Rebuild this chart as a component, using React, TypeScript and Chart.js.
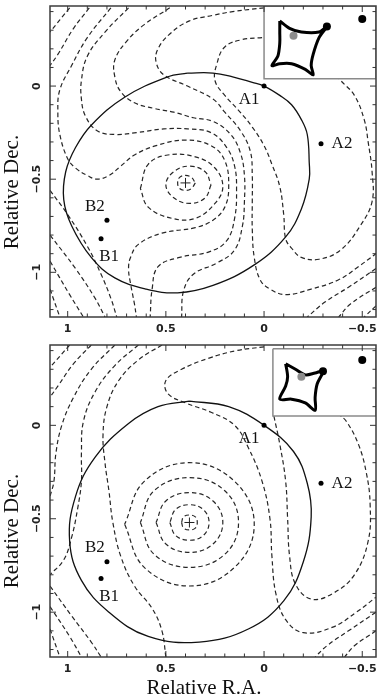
import React, { useEffect, useRef } from "react";
import { Chart, registerables } from "chart.js";

Chart.register(...registerables);

type Pt = [number, number];

// ---------- axes ----------
const X_RANGE: Pt = [-0.57, 1.09];
const Y_RANGE: Pt = [-1.24, 0.43];
const X_TICKS = [1, 0.5, 0, -0.5];
const X_TICK_LABELS = ["1", "0.5", "0", "\u22120.5"];
const Y_TICKS = [0, -0.5, -1];
const Y_TICK_LABELS = ["0", "\u22120.5", "\u22121"];
const X_TITLE = "Relative R.A.";
const Y_TITLE = "Relative Dec.";

// ---------- images (lensed points) ----------
const IMAGE_NAMES = ["A1", "A2", "B2", "B1"];
const TOP_IMAGE_X = [0.0, -0.29, 0.8, 0.83];
const TOP_IMAGE_Y = [0.0, -0.31, -0.72, -0.82];
const BOTTOM_IMAGE_X = [0.0, -0.29, 0.8, 0.83];
const BOTTOM_IMAGE_Y = [0.0, -0.31, -0.73, -0.82];
const TOP_LENS: Pt = [0.4, -0.52];
const BOTTOM_LENS: Pt = [0.38, -0.52];

// ---------- top panel: critical curve ----------
const TOP_CRITICAL: Pt[] = [[0.39,0.07],[0.26,0.07],[0.16,0.05],[0.06,0.02],[0.0,0.0],[-0.08,-0.05],[-0.14,-0.1],[-0.19,-0.18],[-0.22,-0.26],[-0.23,-0.41],[-0.23,-0.5],[-0.19,-0.66],[-0.11,-0.81],[0.05,-0.96],[0.26,-1.07],[0.44,-1.11],[0.6,-1.09],[0.76,-1.03],[0.88,-0.92],[0.98,-0.75],[1.02,-0.61],[1.01,-0.46],[0.96,-0.33],[0.88,-0.21],[0.71,-0.06],[0.49,0.05],[0.39,0.07]];

// ---------- top panel: time-delay contours ----------
const TOP_RING_1: Pt[] = [[0.35,-0.52],[0.37,-0.55],[0.4,-0.56],[0.43,-0.55],[0.44,-0.52],[0.43,-0.49],[0.4,-0.48],[0.37,-0.49],[0.35,-0.52]];
const TOP_RING_2: Pt[] = [[0.27,-0.53],[0.3,-0.6],[0.38,-0.63],[0.46,-0.6],[0.5,-0.53],[0.46,-0.46],[0.38,-0.43],[0.3,-0.46],[0.27,-0.53]];
const TOP_RING_3: Pt[] = [[0.63,-0.55],[0.59,-0.42],[0.49,-0.37],[0.35,-0.38],[0.25,-0.44],[0.21,-0.54],[0.25,-0.63],[0.35,-0.71],[0.47,-0.71],[0.59,-0.65],[0.63,-0.55]];
const TOP_C4: Pt[] = [[0.78,0.42],[0.9,0.26],[0.98,0.11],[1.04,-0.02],[1.05,-0.14],[1.04,-0.26],[1.0,-0.39],[0.96,-0.44],[0.9,-0.48],[0.85,-0.5],[0.79,-0.48],[0.73,-0.43],[0.66,-0.37],[0.55,-0.32],[0.4,-0.29],[0.27,-0.32],[0.2,-0.4],[0.18,-0.54],[0.2,-0.65],[0.26,-0.72],[0.35,-0.76],[0.52,-0.79],[0.64,-0.85],[0.68,-0.92],[0.69,-0.98],[0.68,-1.06],[0.66,-1.17],[0.65,-1.24]];
const TOP_C5: Pt[] = [[0.69,0.42],[0.81,0.29],[0.9,0.16],[0.93,0.03],[0.93,-0.07],[0.91,-0.16],[0.85,-0.24],[0.76,-0.26],[0.65,-0.25],[0.51,-0.23],[0.39,-0.23],[0.27,-0.25],[0.19,-0.33],[0.15,-0.43],[0.14,-0.56],[0.15,-0.71],[0.19,-0.83],[0.28,-0.89],[0.43,-0.92],[0.54,-0.97],[0.57,-1.09],[0.58,-1.24]];
const TOP_C6: Pt[] = [[0.48,0.42],[0.61,0.33],[0.7,0.24],[0.76,0.14],[0.76,0.05],[0.73,-0.03],[0.66,-0.09],[0.56,-0.12],[0.46,-0.14],[0.36,-0.17],[0.26,-0.19],[0.17,-0.26],[0.12,-0.36],[0.1,-0.48],[0.1,-0.62],[0.11,-0.75],[0.15,-0.88],[0.24,-0.95],[0.36,-1.01],[0.41,-1.1],[0.42,-1.24]];
const TOP_C7: Pt[] = [[0.0,0.42],[0.16,0.4],[0.26,0.38],[0.38,0.35],[0.48,0.28],[0.54,0.2],[0.55,0.13],[0.51,0.06],[0.39,0.0],[0.26,-0.07],[0.2,-0.14],[0.12,-0.24],[0.07,-0.35],[0.06,-0.48],[0.06,-0.62],[0.06,-0.77],[0.05,-0.92],[0.02,-1.04],[-0.03,-1.09],[-0.11,-1.12],[-0.24,-1.09],[-0.38,-1.04],[-0.48,-0.97],[-0.57,-0.9]];
const TOP_C8: Pt[] = [[0.01,0.26],[0.11,0.25],[0.2,0.21],[0.24,0.12],[0.25,0.03],[0.2,-0.05],[0.13,-0.13],[0.06,-0.22],[0.0,-0.32],[-0.04,-0.42],[-0.08,-0.54],[-0.1,-0.69],[-0.11,-0.82],[-0.14,-0.87],[-0.19,-0.92],[-0.28,-0.93],[-0.39,-0.88],[-0.49,-0.75],[-0.55,-0.62],[-0.55,-0.46],[-0.53,-0.3],[-0.51,-0.18],[-0.46,-0.05],[-0.39,0.03],[-0.35,0.08]];
const TOP_C9: Pt[] = [[-0.57,-0.98],[-0.43,-1.08],[-0.31,-1.16],[-0.22,-1.24]];
const TOP_C10: Pt[] = [[-0.57,-1.08],[-0.44,-1.17],[-0.38,-1.24]];
const TOP_C11: Pt[] = [[-0.57,-1.18],[-0.51,-1.24]];
const TOP_UL_1: Pt[] = [[0.99,0.42],[1.09,0.29]];
const TOP_UL_2: Pt[] = [[0.89,0.42],[0.97,0.31],[1.05,0.17],[1.09,0.11]];
const TOP_LL_1: Pt[] = [[1.09,-1.09],[1.04,-1.24]];
const TOP_LL_2: Pt[] = [[1.09,-0.94],[0.99,-1.12],[0.92,-1.24]];
const TOP_LL_3: Pt[] = [[1.09,-0.8],[0.96,-0.98],[0.86,-1.14],[0.81,-1.24]];
const TOP_LL_4: Pt[] = [[1.09,-0.56],[1.0,-0.69],[0.9,-0.86],[0.83,-1.01],[0.78,-1.14],[0.75,-1.24]];
const TOP_CONTOURS: Pt[][] = [TOP_RING_1, TOP_RING_2, TOP_RING_3, TOP_C4, TOP_C5, TOP_C6, TOP_C7, TOP_C8, TOP_C9, TOP_C10, TOP_C11, TOP_UL_1, TOP_UL_2, TOP_LL_1, TOP_LL_2, TOP_LL_3, TOP_LL_4];

// ---------- top panel: inset (source plane) ----------
const TOP_INSET_BOX: Pt[] = [[0.0,0.43],[0.0,0.04],[-0.57,0.04],[-0.57,0.43],[0.0,0.43]];
const TOP_CAUSTIC: Pt[] = [[-0.08,0.35],[-0.13,0.31],[-0.19,0.29],[-0.28,0.29],[-0.32,0.32],[-0.28,0.26],[-0.25,0.17],[-0.24,0.11],[-0.25,0.06],[-0.21,0.09],[-0.14,0.12],[-0.08,0.12],[-0.04,0.11],[-0.07,0.16],[-0.08,0.23],[-0.08,0.29],[-0.08,0.35]];
const TOP_SOURCE_X = [-0.15, -0.32, -0.5];
const TOP_SOURCE_Y = [0.27, 0.32, 0.36];

// ---------- bottom panel: critical curve ----------
const BOTTOM_CRITICAL: Pt[] = [[0.38,0.13],[0.18,0.1],[0.0,0.0],[-0.15,-0.14],[-0.22,-0.31],[-0.24,-0.49],[-0.2,-0.73],[-0.1,-0.94],[0.08,-1.09],[0.33,-1.16],[0.59,-1.13],[0.79,-1.0],[0.93,-0.83],[0.99,-0.62],[0.96,-0.38],[0.86,-0.17],[0.69,0.01],[0.54,0.1],[0.38,0.13]];

// ---------- bottom panel: time-delay contours ----------
const BOTTOM_RING_1: Pt[] = [[0.42,-0.52],[0.41,-0.55],[0.38,-0.56],[0.35,-0.55],[0.34,-0.52],[0.35,-0.49],[0.38,-0.48],[0.41,-0.49],[0.42,-0.52]];
const BOTTOM_RING_2: Pt[] = [[0.48,-0.52],[0.45,-0.59],[0.38,-0.615],[0.31,-0.59],[0.28,-0.52],[0.31,-0.45],[0.38,-0.425],[0.45,-0.45],[0.48,-0.52]];
const BOTTOM_RING_3: Pt[] = [[0.55,-0.52],[0.5,-0.635],[0.38,-0.68],[0.26,-0.635],[0.21,-0.52],[0.26,-0.405],[0.38,-0.36],[0.5,-0.405],[0.55,-0.52]];
const BOTTOM_RING_4: Pt[] = [[0.63,-0.52],[0.56,-0.69],[0.38,-0.76],[0.2,-0.69],[0.13,-0.52],[0.2,-0.35],[0.38,-0.28],[0.56,-0.35],[0.63,-0.52]];
const BOTTOM_RING_5: Pt[] = [[0.71,-0.53],[0.61,-0.76],[0.38,-0.86],[0.15,-0.76],[0.05,-0.53],[0.15,-0.3],[0.38,-0.2],[0.61,-0.3],[0.71,-0.53]];
const BOTTOM_S1: Pt[] = [[0.64,0.43],[0.76,0.32],[0.86,0.18],[0.92,0.02],[0.93,-0.15],[0.93,-0.3],[0.95,-0.45],[0.98,-0.6],[1.02,-0.72],[1.09,-0.8]];
const BOTTOM_S2: Pt[] = [[0.52,0.43],[0.64,0.35],[0.74,0.24],[0.8,0.1],[0.82,-0.05],[0.81,-0.2],[0.79,-0.35],[0.77,-0.52],[0.73,-0.7],[0.66,-0.86],[0.57,-0.98],[0.52,-1.1],[0.5,-1.24]];
const BOTTOM_C: Pt[] = [[0.0,0.42],[0.14,0.4],[0.28,0.36],[0.42,0.3],[0.5,0.24],[0.49,0.17],[0.4,0.12],[0.27,0.07],[0.15,0.0],[0.08,-0.12],[0.01,-0.3],[-0.03,-0.5],[-0.04,-0.7],[-0.06,-0.9],[-0.11,-1.04],[-0.2,-1.11],[-0.35,-1.08],[-0.47,-1.0],[-0.57,-0.92]];
const BOTTOM_A2_LOOP: Pt[] = [[-0.05,0.05],[-0.08,-0.1],[-0.11,-0.3],[-0.12,-0.5],[-0.13,-0.7],[-0.16,-0.85],[-0.24,-0.93],[-0.35,-0.9],[-0.46,-0.8],[-0.53,-0.62],[-0.54,-0.42],[-0.52,-0.25],[-0.48,-0.1],[-0.42,0.02],[-0.38,0.06]];
const BOTTOM_UL_1: Pt[] = [[0.99,0.43],[1.09,0.31]];
const BOTTOM_UL_2: Pt[] = [[0.88,0.43],[0.97,0.33],[1.05,0.21],[1.09,0.15]];
const BOTTOM_UL_3: Pt[] = [[0.76,0.43],[0.88,0.3],[0.97,0.15],[1.03,0.0],[1.06,-0.15],[1.07,-0.3],[1.09,-0.38]];
const BOTTOM_LL_1: Pt[] = [[1.09,-1.09],[1.04,-1.24]];
const BOTTOM_LL_2: Pt[] = [[1.09,-0.97],[0.99,-1.13],[0.93,-1.24]];
const BOTTOM_LL_3: Pt[] = [[1.09,-0.86],[0.98,-1.02],[0.88,-1.16],[0.83,-1.24]];
const BOTTOM_LR_1: Pt[] = [[-0.57,-1.0],[-0.43,-1.1],[-0.32,-1.18],[-0.26,-1.24]];
const BOTTOM_LR_2: Pt[] = [[-0.57,-1.1],[-0.46,-1.18],[-0.41,-1.24]];
const BOTTOM_CONTOURS: Pt[][] = [BOTTOM_RING_1, BOTTOM_RING_2, BOTTOM_RING_3, BOTTOM_RING_4, BOTTOM_RING_5, BOTTOM_S1, BOTTOM_S2, BOTTOM_C, BOTTOM_A2_LOOP, BOTTOM_UL_1, BOTTOM_UL_2, BOTTOM_UL_3, BOTTOM_LL_1, BOTTOM_LL_2, BOTTOM_LL_3, BOTTOM_LR_1, BOTTOM_LR_2];

// ---------- bottom panel: inset ----------
const BOTTOM_INSET_BOX: Pt[] = [[-0.045,0.41],[-0.045,0.05],[-0.57,0.05],[-0.57,0.41],[-0.045,0.41]];
const BOTTOM_CAUSTIC: Pt[] = [[-0.11,0.33],[-0.16,0.3],[-0.21,0.27],[-0.26,0.28],[-0.3,0.29],[-0.27,0.22],[-0.26,0.15],[-0.26,0.08],[-0.21,0.12],[-0.14,0.14],[-0.08,0.14],[-0.11,0.21],[-0.12,0.26],[-0.11,0.33]];
const BOTTOM_SOURCE_X = [-0.19, -0.3, -0.5];
const BOTTOM_SOURCE_Y = [0.26, 0.29, 0.35];

// label offsets (px) for A1, A2, B2, B1
const LABEL_OFFSETS: Pt[] = [[-15, 13], [21, 0], [-12, -14], [8, 18]];

interface PanelData {
  critical: Pt[];
  contours: Pt[][];
  insetBox: Pt[];
  caustic: Pt[];
  sourceX: number[];
  sourceY: number[];
  imageX: number[];
  imageY: number[];
  lens: Pt;
}

const toXY = (pts: Pt[]) => pts.map(([x, y]) => ({ x, y }));

const decorPlugin = {
  id: "decor",
  afterDatasetsDraw(chart: any, _args: any, opts: any) {
    const { ctx, chartArea: a, scales } = chart;
    const xs = scales.x;
    const ys = scales.y;
    ctx.save();
    ctx.fillStyle = "#111";
    ctx.font = '17px "Liberation Serif", "DejaVu Serif", serif';
    ctx.textAlign = "center";
    ctx.textBaseline = "middle";
    const ix: number[] = opts.imageX;
    const iy: number[] = opts.imageY;
    IMAGE_NAMES.forEach((n, i) => {
      const px = xs.getPixelForValue(ix[i]) + LABEL_OFFSETS[i][0];
      const py = ys.getPixelForValue(iy[i]) + LABEL_OFFSETS[i][1];
      ctx.fillText(n, px, py);
    });
    ctx.strokeStyle = "#3c3c3c";
    ctx.lineWidth = 1.5;
    ctx.strokeRect(a.left, a.top, a.right - a.left, a.bottom - a.top);
    ctx.lineWidth = 1;
    ctx.strokeStyle = "#333";
    ctx.beginPath();
    for (let k = Math.ceil(xs.min * 10); k <= Math.floor(xs.max * 10); k++) {
      const p = xs.getPixelForValue(k / 10);
      const len = k % 5 === 0 ? 6 : 3.5;
      ctx.moveTo(p, a.bottom);
      ctx.lineTo(p, a.bottom - len);
      ctx.moveTo(p, a.top);
      ctx.lineTo(p, a.top + len);
    }
    for (let k = Math.ceil(ys.min * 10); k <= Math.floor(ys.max * 10); k++) {
      const p = ys.getPixelForValue(k / 10);
      const len = k % 5 === 0 ? 6 : 3.5;
      ctx.moveTo(a.left, p);
      ctx.lineTo(a.left + len, p);
      ctx.moveTo(a.right, p);
      ctx.lineTo(a.right - len, p);
    }
    ctx.stroke();
    ctx.fillStyle = "#222";
    ctx.font = 'bold 11px "DejaVu Sans", "Liberation Sans", sans-serif';
    X_TICKS.forEach((v, i) => {
      ctx.fillText(X_TICK_LABELS[i], xs.getPixelForValue(v), a.bottom + 12);
    });
    Y_TICKS.forEach((v, i) => {
      ctx.save();
      ctx.translate(a.left - 13, ys.getPixelForValue(v));
      ctx.rotate(-Math.PI / 2);
      ctx.fillText(Y_TICK_LABELS[i], 0, 0);
      ctx.restore();
    });
    ctx.fillStyle = "#111";
    ctx.font = '21px "Liberation Serif", "DejaVu Serif", serif';
    ctx.textBaseline = "alphabetic";
    ctx.save();
    ctx.translate(18, a.top + 186);
    ctx.rotate(-Math.PI / 2);
    ctx.fillText(Y_TITLE, 0, 0);
    ctx.restore();
    if (opts.showXTitle) {
      ctx.fillText(X_TITLE, 204, a.bottom + 37);
    }
    ctx.restore();
  },
};

function Panel({ d, height, padBottom, showXTitle }: { d: PanelData; height: number; padBottom: number; showXTitle: boolean }) {
  const ref = useRef<HTMLCanvasElement>(null);
  useEffect(() => {
    if (!ref.current) return;
    const contourSets = d.contours.map((c) => ({
      data: toXY(c),
      showLine: true,
      borderColor: "#262626",
      borderWidth: 1.2,
      borderDash: [4.5, 3],
      tension: 0.4,
      pointRadius: 0,
      fill: false,
      order: 10,
    }));
    const datasets: any[] = [
      ...contourSets,
      { data: toXY(d.critical), showLine: true, borderColor: "#111", borderWidth: 1.3, tension: 0.4, pointRadius: 0, fill: false, order: 9 },
      { data: toXY(d.insetBox), showLine: true, borderColor: "#8a8a8a", borderWidth: 1.5, backgroundColor: "#ffffff", fill: "shape", tension: 0, pointRadius: 0, order: 6 },
      { data: toXY(d.caustic), showLine: true, borderColor: "#000", borderWidth: 3, tension: 0.3, pointRadius: 0, fill: false, order: 5 },
      {
        data: d.sourceX.map((x, i) => ({ x, y: d.sourceY[i] })),
        showLine: false,
        pointRadius: 4,
        pointBackgroundColor: ["#8c8c8c", "#000", "#000"],
        pointBorderWidth: 0,
        order: 4,
      },
      {
        data: d.imageX.map((x, i) => ({ x, y: d.imageY[i] })),
        showLine: false,
        pointRadius: 2.5,
        pointBackgroundColor: "#000",
        pointBorderWidth: 0,
        order: 3,
      },
      {
        data: [{ x: d.lens[0], y: d.lens[1] }],
        showLine: false,
        pointStyle: "cross",
        pointRadius: 5,
        pointBorderColor: "#222",
        pointBorderWidth: 1,
        order: 3,
      },
    ];
    const chart = new Chart(ref.current, {
      type: "scatter",
      data: { datasets },
      options: {
        animation: false,
        responsive: false,
        events: [],
        layout: { padding: { left: 50, top: 3, right: 4, bottom: padBottom } },
        scales: {
          x: { type: "linear", min: X_RANGE[0], max: X_RANGE[1], reverse: true, display: false },
          y: { type: "linear", min: Y_RANGE[0], max: Y_RANGE[1], display: false },
        },
        plugins: {
          legend: { display: false },
          tooltip: { enabled: false },
          decor: { imageX: d.imageX, imageY: d.imageY, showXTitle },
        } as any,
      },
      plugins: [decorPlugin],
    } as any);
    return () => chart.destroy();
  }, []);
  return <canvas ref={ref} width={382} height={height} style={{ display: "block", width: 382, height }} />;
}

export default function App() {
  const top: PanelData = {
    critical: TOP_CRITICAL,
    contours: TOP_CONTOURS,
    insetBox: TOP_INSET_BOX,
    caustic: TOP_CAUSTIC,
    sourceX: TOP_SOURCE_X,
    sourceY: TOP_SOURCE_Y,
    imageX: TOP_IMAGE_X,
    imageY: TOP_IMAGE_Y,
    lens: TOP_LENS,
  };
  const bottom: PanelData = {
    critical: BOTTOM_CRITICAL,
    contours: BOTTOM_CONTOURS,
    insetBox: BOTTOM_INSET_BOX,
    caustic: BOTTOM_CAUSTIC,
    sourceX: BOTTOM_SOURCE_X,
    sourceY: BOTTOM_SOURCE_Y,
    imageX: BOTTOM_IMAGE_X,
    imageY: BOTTOM_IMAGE_Y,
    lens: BOTTOM_LENS,
  };
  return (
    <div style={{ position: "absolute", left: 0, top: 0, width: 382, height: 698, background: "#fff" }}>
      <div style={{ position: "absolute", left: 0, top: 0 }}>
        <Panel d={top} height={339} padBottom={22} showXTitle={false} />
      </div>
      <div style={{ position: "absolute", left: 0, top: 339 }}>
        <Panel d={bottom} height={359} padBottom={41} showXTitle={true} />
      </div>
    </div>
  );
}
